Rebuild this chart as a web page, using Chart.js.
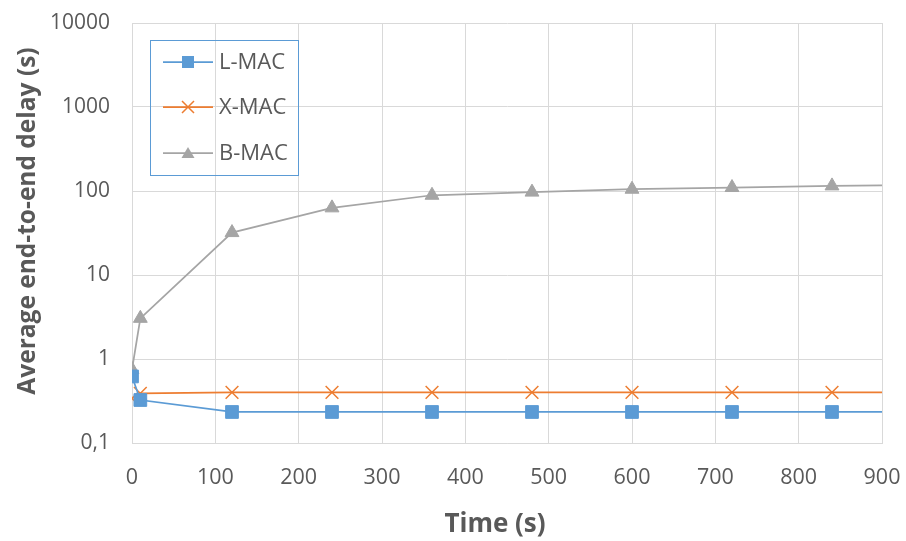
<!DOCTYPE html>
<html>
<head>
<meta charset="utf-8">
<script src="https://cdn.jsdelivr.net/npm/chart.js@4/dist/chart.umd.min.js"></script>
<style>
html,body{margin:0;padding:0;background:#fff;}
#wrap{width:906px;height:541px;position:relative;}
</style>
</head>
<body>
<div id="wrap"><canvas id="c" width="906" height="541"></canvas></div>
<script>
const times = [0, 10, 120, 240, 360, 480, 600, 720, 840, 960];
const lmac = [0.62, 0.325, 0.234, 0.234, 0.234, 0.234, 0.234, 0.234, 0.234, 0.234];
const xmac = [0.34, 0.39, 0.40, 0.40, 0.40, 0.40, 0.40, 0.40, 0.40, 0.40];
const bmac = [0.75, 3.05, 32, 63, 89, 97, 105, 110, 115, 119];
const seriesNames = ['L-MAC', 'X-MAC', 'B-MAC'];
const yTickValues = [0.1, 1, 10, 100, 1000, 10000];
const yTickLabels = ['0,1', '1', '10', '100', '1000', '10000'];
const xTitle = 'Time (s)';
const yTitle = 'Average end-to-end delay (s)';

const FONT = "'Open Sans', sans-serif";
const TXT = '#595959';
const GRID = '#d9d9d9';

function pts(arr){ return times.map((t,i)=>({x:t,y:arr[i]})); }
function radii(r){ return times.map(t => t > 900 ? 0 : r); }

const datasets = [
  {label: seriesNames[0], data: pts(lmac), borderColor:'#5b9bd5', backgroundColor:'#5b9bd5',
   pointStyle:'rect', pointRadius: radii(9), pointBorderWidth:1, pointBorderColor:'#5b9bd5', borderWidth:1.75},
  {label: seriesNames[1], data: pts(xmac), borderColor:'#ed7d31', backgroundColor:'#ed7d31',
   pointStyle:'crossRot', pointRadius: radii(9), pointBorderWidth:1.5, pointBorderColor:'#ed7d31', borderWidth:1.75},
  {label: seriesNames[2], data: pts(bmac), borderColor:'#a5a5a5', backgroundColor:'#a5a5a5',
   pointStyle:'triangle', pointRadius: radii(8), pointBorderWidth:1, pointBorderColor:'#a5a5a5', borderWidth:1.75}
];

const legendPlugin = {
  id:'customLegend',
  afterDraw(chart){
    const ctx = chart.ctx;
    ctx.save();
    // axis titles
    ctx.fillStyle = TXT;
    ctx.textAlign = 'center';
    ctx.textBaseline = 'middle';
    ctx.font = "bold 26px " + FONT;
    ctx.fillText(xTitle, 495, 525);
    ctx.save();
    ctx.translate(28, 221);
    ctx.rotate(-Math.PI/2);
    ctx.font = "bold 24.5px " + FONT;
    ctx.fillText(yTitle, 0, 0);
    ctx.restore();

    const bx = 150.5, by = 40.5, bw = 148, bh = 135;
    ctx.strokeStyle = '#5b9bd5';
    ctx.lineWidth = 1;
    ctx.strokeRect(bx, by, bw, bh);
    const rows = [62, 107, 153];
    chart.data.datasets.forEach((ds, i) => {
      const y = rows[i];
      ctx.strokeStyle = ds.borderColor;
      ctx.lineWidth = 1.75;
      ctx.beginPath(); ctx.moveTo(163, y); ctx.lineTo(213, y); ctx.stroke();
      ctx.fillStyle = ds.backgroundColor;
      const cx = 188;
      if (ds.pointStyle === 'rect') {
        ctx.fillRect(cx-6, y-6, 12, 12);
      } else if (ds.pointStyle === 'crossRot') {
        ctx.lineWidth = 1.5;
        ctx.beginPath();
        ctx.moveTo(cx-6, y-6); ctx.lineTo(cx+6, y+6);
        ctx.moveTo(cx+6, y-6); ctx.lineTo(cx-6, y+6);
        ctx.stroke();
      } else {
        ctx.beginPath();
        ctx.moveTo(cx, y-6); ctx.lineTo(cx+6.5, y+5); ctx.lineTo(cx-6.5, y+5); ctx.closePath();
        ctx.fill();
      }
      ctx.fillStyle = TXT;
      ctx.font = "22px " + FONT;
      ctx.textBaseline = 'middle';
      ctx.textAlign = 'left';
      ctx.fillText(ds.label, 219, y+1);
    });
    ctx.restore();
  }
};

new Chart(document.getElementById('c'), {
  type:'line',
  data:{datasets},
  plugins:[legendPlugin],
  options:{
    responsive:false,
    animation:false,
    layout:{padding:{left:0, right:24, top:23, bottom:0}},
    plugins:{legend:{display:false}, tooltip:{enabled:false}},
    elements:{line:{tension:0}},
    scales:{
      x:{
        type:'linear', min:0, max:900,
        border:{color:GRID, width:1},
        grid:{color:GRID, lineWidth:1, drawTicks:false},
        ticks:{stepSize:100, color:TXT, font:{family:FONT, size:21.5}, padding:22, maxRotation:0},
        title:{display:false},
        afterFit(s){ s.height = 98; s.paddingLeft = 0; s.paddingRight = 0; }
      },
      y:{
        type:'logarithmic', min:0.1, max:10000,
        border:{color:GRID, width:1},
        grid:{color:GRID, lineWidth:1, drawTicks:false},
        afterBuildTicks(s){ s.ticks = yTickValues.map(v=>({value:v})); },
        ticks:{color:TXT, font:{family:FONT, size:21}, padding:22,
          callback(v){ const i = yTickValues.indexOf(v); return i>=0 ? yTickLabels[i] : ''; }},
        title:{display:false},
        afterFit(s){ s.width = 132; s.paddingTop = 0; s.paddingBottom = 0; }
      }
    }
  }
});
</script>
</body>
</html>
